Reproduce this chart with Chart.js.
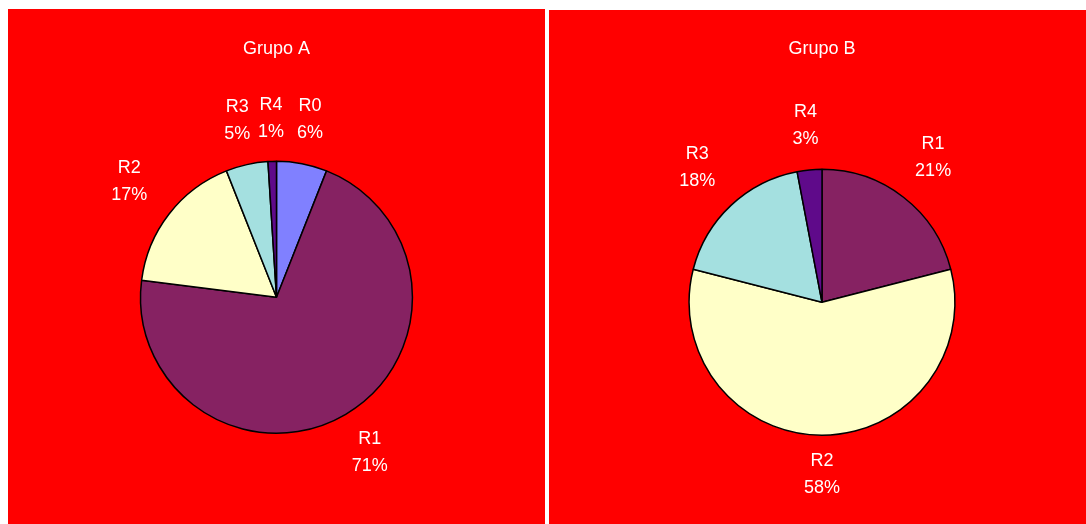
<!DOCTYPE html>
<html>
<head>
<meta charset="utf-8">
<script src="https://cdn.jsdelivr.net/npm/chart.js@4/dist/chart.umd.min.js"></script>
<style>
  body { margin: 0; background: #fff; width: 1086px; height: 524px; overflow: hidden; position: relative; }
  .panel { position: absolute; background: #ff0000; }
  #panel-a { left: 8px; top: 9px; width: 537px; height: 515px; }
  #panel-b { left: 549px; top: 10px; width: 537px; height: 514px; }
</style>
</head>
<body>
<div class="panel" id="panel-a"><canvas id="grupo-a"></canvas></div>
<div class="panel" id="panel-b"><canvas id="grupo-b"></canvas></div>
<script>
const etiquetasA = ['R0', 'R1', 'R2', 'R3', 'R4'];
const valoresA = [6, 71, 17, 5, 1];
const coloresA = ['#8080ff', '#862262', '#ffffc8', '#a4e0e0', '#5f0a8a'];

const etiquetasB = ['R1', 'R2', 'R3', 'R4'];
const valoresB = [21, 58, 18, 3];
const coloresB = ['#862262', '#ffffc8', '#a4e0e0', '#5f0a8a'];

const fuente = 'Liberation Sans, Arial, sans-serif';

// rotulos de cada porcion: nombre y porcentaje fuera de la torta
const rotulos = {
  id: 'rotulos',
  afterDatasetsDraw(chart) {
    const ctx = chart.ctx;
    const meta = chart.getDatasetMeta(0);
    const labels = chart.data.labels;
    const data = chart.data.datasets[0].data;
    ctx.save();
    ctx.fillStyle = '#ffffff';
    ctx.font = '18px ' + fuente;
    ctx.textAlign = 'center';
    ctx.textBaseline = 'middle';
    meta.data.forEach((arc, i) => {
      const { x, y, startAngle, endAngle, outerRadius } = arc.getProps(['x', 'y', 'startAngle', 'endAngle', 'outerRadius'], true);
      const medio = (startAngle + endAngle) / 2;
      const dist = outerRadius + 41 + 12 * Math.abs(Math.cos(medio));
      const lx = x + Math.cos(medio) * dist;
      const ly = y + Math.sin(medio) * dist - 2;
      ctx.fillText(labels[i], lx, ly - 13.5);
      ctx.fillText(data[i] + '%', lx, ly + 13.5);
    });
    ctx.restore();
  }
};

function crearTorta(id, titulo, etiquetas, valores, colores, padding, tituloPad) {
  return new Chart(document.getElementById(id), {
    type: 'pie',
    data: {
      labels: etiquetas,
      datasets: [{
        data: valores,
        backgroundColor: colores,
        borderColor: '#000000',
        borderWidth: 1.5
      }]
    },
    options: {
      responsive: true,
      maintainAspectRatio: false,
      animation: false,
      layout: { padding },
      plugins: {
        legend: { display: false },
        tooltip: { enabled: false },
        title: {
          display: true,
          text: titulo,
          color: '#ffffff',
          font: { family: fuente, size: 18, weight: 'normal' },
          padding: tituloPad
        }
      }
    },
    plugins: [rotulos]
  });
}

crearTorta('grupo-a', 'Grupo A', etiquetasA, valoresA, coloresA,
  { top: 0, bottom: 90, left: 0, right: 0 }, { top: 29, bottom: 101 });
crearTorta('grupo-b', 'Grupo B', etiquetasB, valoresB, coloresB,
  { top: 0, bottom: 88, left: 9, right: 0 }, { top: 28, bottom: 109 });
</script>
</body>
</html>
